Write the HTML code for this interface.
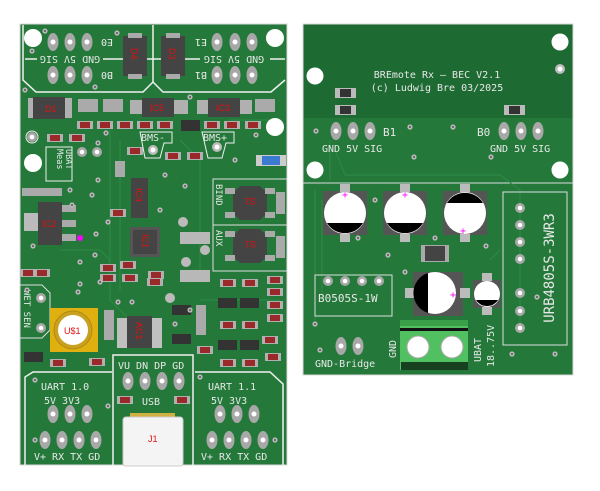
<!DOCTYPE html>
<html><head><meta charset="utf-8"><style>
html,body{margin:0;padding:0;background:#fff;width:600px;height:491px;overflow:hidden}
svg{display:block}
text{font-family:"DejaVu Sans Mono","Liberation Mono",monospace;fill:#e8e8e8}
.r{font-family:"Liberation Sans",sans-serif;fill:#e01010;font-size:9px}
</style></head><body>
<svg width="600" height="491" viewBox="0 0 600 491" xmlns="http://www.w3.org/2000/svg">
<defs>
<g id="pv"><ellipse rx="5.5" ry="9" fill="#a8a8a8"/><circle r="2.5" fill="#fff"/></g>
<g id="pr"><circle r="5" fill="#a8a8a8"/><circle r="2.3" fill="#fff"/></g>
<g id="res"><rect x="-8" y="-4" width="16" height="8" fill="#b0b0b0"/><rect x="-5" y="-3" width="10" height="6" fill="#9a2a2a"/></g>
<g id="via"><circle r="2.6" fill="#b8b8b8"/><circle r="1" fill="#555"/></g>
</defs>
<!-- LEFT BOARD -->
<rect x="20" y="24" width="267" height="441" fill="#24793a"/>
<rect x="20" y="24" width="267" height="441" fill="none" stroke="#d8d8d8" stroke-width="1"/>
<g fill="none" stroke="#2e8a44" stroke-width="1">
<path d="M110 130 L110 300 L140 330 M120 140 L120 290 M180 140 L200 160 L200 280 M60 250 L100 250 L110 260 M200 300 L280 300 M230 120 L280 120"/>
</g>
<!-- top outline -->
<g fill="none" stroke="#f0f0f0" stroke-width="1.5">
<path d="M23 25 L23 80 L36 92 L143 92 L153 82 L163 92 L271 92 L285 80"/>
<path d="M153 25 L153 82"/>
<path d="M25 59 L37 59 M103 59 L123 59 M147 59 L161 59 M185 59 L200 59 M270 59 L285 59"/>
</g>
<g fill="#fff"><circle cx="33" cy="38" r="9"/><circle cx="275" cy="38" r="9"/><circle cx="275" cy="127" r="9"/><circle cx="33" cy="163" r="9"/></g>
<use href="#pv" x="53" y="42"/><use href="#pv" x="70" y="42"/><use href="#pv" x="87" y="42"/>
<use href="#pv" x="53" y="75"/><use href="#pv" x="70" y="75"/><use href="#pv" x="87" y="75"/>
<use href="#pv" x="217" y="42"/><use href="#pv" x="235" y="42"/><use href="#pv" x="252" y="42"/>
<use href="#pv" x="217" y="75"/><use href="#pv" x="235" y="75"/><use href="#pv" x="252" y="75"/>
<g font-size="10">
<text transform="translate(70,56) rotate(180)" text-anchor="middle">GND 5V SIG</text>
<text transform="translate(234,56) rotate(180)" text-anchor="middle">GND 5V SIG</text>
<text transform="translate(107,39) rotate(180)" text-anchor="middle">E0</text>
<text transform="translate(107,72) rotate(180)" text-anchor="middle">B0</text>
<text transform="translate(201,39) rotate(180)" text-anchor="middle">E1</text>
<text transform="translate(201,72) rotate(180)" text-anchor="middle">B1</text>
</g>
<!-- D4 D3 -->
<rect x="123" y="36" width="24" height="40" fill="#444"/><rect x="128" y="33" width="14" height="5" fill="#aaa"/><rect x="128" y="74" width="14" height="5" fill="#aaa"/>
<text class="r" transform="translate(131,48) rotate(90)">D4</text>
<rect x="161" y="36" width="24" height="40" fill="#444"/><rect x="166" y="33" width="14" height="5" fill="#aaa"/><rect x="166" y="74" width="14" height="5" fill="#aaa"/>
<text class="r" transform="translate(169,48) rotate(90)">D3</text>
<!-- row 2 -->
<rect x="28" y="98" width="44" height="20" fill="#b0b0b0"/><rect x="33" y="97" width="32" height="22" fill="#444"/><text class="r" x="45" y="112">D1</text>
<rect x="78" y="99" width="20" height="13" fill="#aaa"/><rect x="103" y="99" width="20" height="13" fill="#aaa"/><rect x="255" y="99" width="20" height="13" fill="#aaa"/>
<rect x="130" y="100" width="58" height="14" fill="#b0b0b0"/><rect x="142" y="98" width="32" height="19" fill="#444"/><text class="r" x="150" y="111">IC5</text>
<rect x="197" y="100" width="55" height="14" fill="#b0b0b0"/><rect x="208" y="98" width="32" height="19" fill="#444"/><text class="r" x="216" y="111">IC3</text>
<use href="#res" x="85" y="125"/><use href="#res" x="105" y="125"/><use href="#res" x="125" y="125"/><use href="#res" x="145" y="125"/><use href="#res" x="165" y="125"/><use href="#res" x="212" y="125"/><use href="#res" x="232" y="125"/><use href="#res" x="253" y="125"/>
<rect x="181" y="120" width="19" height="11" fill="#333"/>
<use href="#res" x="55" y="138"/><use href="#res" x="77" y="138"/>
<use href="#res" x="135" y="151"/><use href="#res" x="173" y="156"/><use href="#res" x="195" y="156"/>
<rect x="256" y="155" width="30" height="11" fill="#ccc"/><rect x="262" y="156" width="18" height="9" fill="#3a7ad0"/>
<g font-size="10"><text x="141" y="141">BMS-</text><text x="203" y="141">BMS+</text></g>
<g fill="none" stroke="#f0f0f0" stroke-width="1"><path d="M140 132 H172 V143 H164 L160 158 H145 Z"/><path d="M202 132 H234 V143 H226 L222 158 H208 Z"/></g>
<circle cx="153" cy="150" r="5" fill="#bbb"/><circle cx="153" cy="150" r="2.5" fill="#fff"/>
<circle cx="217" cy="147" r="5" fill="#bbb"/><circle cx="217" cy="147" r="2.5" fill="#fff"/>
<circle cx="32" cy="137" r="6" fill="none" stroke="#eee"/><use href="#pr" x="32" y="137"/>
<rect x="46" y="147" width="26" height="34" fill="none" stroke="#eee"/>
<text font-size="8.5" transform="translate(57,149) rotate(90)">Meas</text><text font-size="8.5" transform="translate(66,149) rotate(90)">UBAT</text>
<use href="#pr" x="82" y="152"/><use href="#pr" x="97" y="152"/>
<!-- IC2 -->
<rect x="24" y="213" width="14" height="18" fill="#bbb"/><rect x="38" y="202" width="24" height="43" fill="#444"/>
<rect x="62" y="205" width="14" height="7" fill="#aaa"/><rect x="62" y="220" width="14" height="7" fill="#aaa"/><rect x="62" y="234" width="14" height="7" fill="#aaa"/>
<text class="r" x="42" y="227">IC2</text><circle cx="80" cy="238" r="3" fill="#f0f"/>
<rect x="22" y="188" width="40" height="8" fill="#aaa"/>
<!-- IC4 -->
<rect x="131" y="178" width="17" height="40" fill="#444"/><text class="r" transform="translate(136,188) rotate(90)">IC4</text>
<use href="#res" x="118" y="213"/><rect x="115" y="161" width="10" height="16" fill="#aaa"/>
<!-- IC1 -->
<rect x="130" y="227" width="30" height="30" fill="#555"/><rect x="133" y="230" width="24" height="24" fill="#444"/><text class="r" transform="translate(142,234) rotate(90)">IC1</text>
<rect x="180" y="232" width="30" height="12" fill="#b8b8b8"/><rect x="180" y="270" width="30" height="12" fill="#b8b8b8"/>
<circle cx="183" cy="222" r="5" fill="#bbb"/><circle cx="205" cy="250" r="5" fill="#bbb"/><circle cx="186" cy="262" r="5" fill="#bbb"/><circle cx="170" cy="298" r="5" fill="#bbb"/><circle cx="40" cy="202" r="0" />
<!-- BIND / AUX -->
<rect x="213" y="179" width="74" height="46" fill="none" stroke="#ddd"/><rect x="213" y="225" width="74" height="46" fill="none" stroke="#ddd"/>
<text font-size="9" transform="translate(216,184) rotate(90)">BIND</text><text font-size="9" transform="translate(216,230) rotate(90)">AUX</text>
<polygon points="240,186 260,186 267,193 267,213 260,220 240,220 233,213 233,193" fill="#444"/><text class="r" transform="translate(256,198) rotate(180)">S2</text>
<polygon points="240,229 260,229 267,236 267,256 260,263 240,263 233,256 233,236" fill="#444"/><text class="r" transform="translate(256,241) rotate(180)">S1</text>
<rect x="225" y="188" width="10" height="6" fill="#aaa"/><rect x="265" y="188" width="10" height="6" fill="#aaa"/><rect x="225" y="212" width="10" height="6" fill="#aaa"/><rect x="265" y="212" width="10" height="6" fill="#aaa"/>
<rect x="225" y="231" width="10" height="6" fill="#aaa"/><rect x="265" y="231" width="10" height="6" fill="#aaa"/><rect x="225" y="255" width="10" height="6" fill="#aaa"/><rect x="265" y="255" width="10" height="6" fill="#aaa"/>
<rect x="276" y="192" width="9" height="22" fill="#aaa"/><rect x="276" y="236" width="9" height="22" fill="#aaa"/>
<!-- middle small parts -->
<use href="#res" x="128" y="265"/><use href="#res" x="130" y="278"/><use href="#res" x="156" y="275"/><use href="#res" x="155" y="282"/><use href="#res" x="28" y="273"/><use href="#res" x="42" y="273"/>
<use href="#res" x="108" y="268"/><use href="#res" x="108" y="278"/>
<use href="#res" x="228" y="283"/><use href="#res" x="250" y="283"/><use href="#res" x="275" y="280"/><use href="#res" x="275" y="292"/><use href="#res" x="275" y="305"/><use href="#res" x="275" y="318"/>
<use href="#res" x="228" y="325"/><use href="#res" x="250" y="325"/><use href="#res" x="270" y="340"/>
<use href="#res" x="205" y="350"/><use href="#res" x="228" y="363"/><use href="#res" x="250" y="363"/><use href="#res" x="273" y="357"/>
<use href="#res" x="58" y="363"/><use href="#res" x="97" y="362"/>
<rect x="218" y="298" width="19" height="10" fill="#333"/><rect x="240" y="298" width="19" height="10" fill="#333"/><rect x="218" y="340" width="19" height="10" fill="#333"/><rect x="240" y="340" width="19" height="10" fill="#333"/>
<rect x="172" y="305" width="19" height="10" fill="#333"/><rect x="172" y="334" width="19" height="10" fill="#333"/>
<rect x="24" y="352" width="19" height="10" fill="#333"/>
<rect x="196" y="305" width="10" height="30" fill="#aaa"/><rect x="104" y="310" width="10" height="30" fill="#aaa"/>
<!-- AC1 -->
<rect x="117" y="318" width="10" height="30" fill="#c0c0c0"/><rect x="152" y="318" width="10" height="30" fill="#c0c0c0"/>
<rect x="127" y="316" width="25" height="32" fill="#444"/><text class="r" transform="translate(136,322) rotate(90)">AC1</text>
<!-- WET SEN -->
<path d="M20 285 H42 L50 293 V330 L42 338 H20" fill="none" stroke="#ddd"/>
<text font-size="9" transform="translate(24,290) rotate(90)">WET SEN</text>
<use href="#pr" x="41" y="298"/><use href="#pr" x="41" y="328"/>
<!-- U$1 -->
<rect x="50" y="308" width="48" height="44" fill="#e0b010"/><circle cx="73" cy="330" r="19" fill="#caa020" stroke="#b08a10"/><circle cx="73" cy="330" r="15" fill="#fff"/>
<text class="r" x="64" y="334" font-size="10">U$1</text>
<!-- USB box -->
<path d="M113 466 V355 H193 V466" fill="none" stroke="#f0f0f0" stroke-width="1.5"/>
<text font-size="10" x="118" y="369">VU DN DP GD</text>
<use href="#pv" x="128" y="381"/><use href="#pv" x="145" y="381"/><use href="#pv" x="162" y="381"/><use href="#pv" x="179" y="381"/>
<text font-size="10" x="142" y="405">USB</text>
<use href="#res" x="125" y="400"/><use href="#res" x="182" y="400"/>
<rect x="130" y="413" width="45" height="5" fill="#d0b040"/>
<rect x="123" y="417" width="60" height="49" rx="3" fill="#f4f4f4" stroke="#ccc"/>
<text class="r" x="148" y="442">J1</text>
<!-- UART boxes -->
<path d="M25 465 V377 L33 372 H112" fill="none" stroke="#f0f0f0" stroke-width="1.5"/>
<path d="M195 372 H270 L283 384 V465" fill="none" stroke="#f0f0f0" stroke-width="1.5"/>
<g font-size="10">
<text x="41" y="390">UART 1.0</text><text x="44" y="404">5V  3V3</text><text x="34" y="460">V+ RX TX GD</text>
<text x="208" y="390">UART 1.1</text><text x="211" y="404">5V  3V3</text><text x="201" y="460">V+ RX TX GD</text>
</g>
<use href="#pv" x="53" y="414"/><use href="#pv" x="70" y="414"/><use href="#pv" x="87" y="414"/>
<use href="#pv" x="45" y="440"/><use href="#pv" x="62" y="440"/><use href="#pv" x="79" y="440"/><use href="#pv" x="96" y="440"/>
<use href="#pv" x="220" y="414"/><use href="#pv" x="237" y="414"/><use href="#pv" x="254" y="414"/>
<use href="#pv" x="212" y="440"/><use href="#pv" x="229" y="440"/><use href="#pv" x="246" y="440"/><use href="#pv" x="263" y="440"/>
<!-- vias -->
<g>
<use href="#via" x="45" y="31"/><use href="#via" x="117" y="33"/><use href="#via" x="32" y="51"/><use href="#via" x="95" y="87"/><use href="#via" x="25" y="90"/><use href="#via" x="190" y="97"/><use href="#via" x="106" y="133"/><use href="#via" x="256" y="135"/><use href="#via" x="98" y="143"/><use href="#via" x="235" y="160"/><use href="#via" x="98" y="180"/><use href="#via" x="70" y="190"/><use href="#via" x="92" y="195"/><use href="#via" x="72" y="205"/><use href="#via" x="165" y="175"/><use href="#via" x="185" y="186"/><use href="#via" x="108" y="222"/><use href="#via" x="160" y="210"/><use href="#via" x="96" y="234"/><use href="#via" x="33" y="246"/><use href="#via" x="95" y="255"/><use href="#via" x="80" y="284"/><use href="#via" x="100" y="282"/><use href="#via" x="118" y="302"/><use href="#via" x="132" y="302"/><use href="#via" x="78" y="292"/><use href="#via" x="175" y="324"/><use href="#via" x="190" y="310"/><use href="#via" x="27" y="290"/><use href="#via" x="80" y="262"/><use href="#via" x="35" y="380"/><use href="#via" x="108" y="406"/><use href="#via" x="200" y="377"/><use href="#via" x="275" y="440"/><use href="#via" x="35" y="440"/>
</g>
<!-- RIGHT BOARD -->
<rect x="303" y="24" width="270" height="351" fill="#24793a"/>
<rect x="303" y="24" width="270" height="94" fill="#1e6a33"/>
<rect x="303" y="24" width="270" height="351" fill="none" stroke="#d8d8d8"/>
<line x1="303" y1="183" x2="573" y2="183" stroke="#dcdcdc" stroke-width="1"/>
<g fill="none" stroke="#2e8a44"><path d="M330 140 V180 M335 150 L345 175 H500 L520 190 V330 M315 190 V320 M322 200 V300 M500 250 L490 260"/></g>
<g fill="#fff"><circle cx="560" cy="42" r="8.5"/><circle cx="315" cy="76" r="8.5"/><circle cx="315" cy="170" r="8.5"/><circle cx="560" cy="170" r="8.5"/></g>
<circle cx="560" cy="69" r="5" fill="#bbb"/><circle cx="560" cy="69" r="2.5" fill="#fff"/>
<g font-size="10"><text x="437" y="78" text-anchor="middle">BREmote Rx – BEC V2.1</text><text x="437" y="91" text-anchor="middle">(c) Ludwig Bre 03/2025</text></g>
<rect x="335" y="88" width="21" height="10" fill="#bbb"/><rect x="340" y="89" width="11" height="8" fill="#333"/>
<rect x="335" y="105" width="21" height="10" fill="#bbb"/><rect x="340" y="106" width="11" height="8" fill="#333"/>
<rect x="504" y="105" width="21" height="10" fill="#bbb"/><rect x="509" y="106" width="11" height="8" fill="#333"/>
<use href="#pv" x="336" y="131"/><use href="#pv" x="353" y="131"/><use href="#pv" x="370" y="131"/>
<use href="#pv" x="504" y="131"/><use href="#pv" x="521" y="131"/><use href="#pv" x="538" y="131"/>
<g font-size="11"><text x="383" y="136">B1</text><text x="477" y="136">B0</text></g>
<g font-size="10"><text x="322" y="152">GND 5V SIG</text><text x="490" y="152">GND 5V SIG</text></g>
<!-- caps -->
<g>
<rect x="323" y="191" width="44" height="44" fill="#555"/><rect x="340" y="184" width="10" height="8" fill="#bbb"/><rect x="340" y="234" width="10" height="8" fill="#bbb"/>
<circle cx="345" cy="213" r="21" fill="#fff"/><path d="M327 223 A21 21 0 0 0 363 223 Z" fill="#000"/>
<rect x="383" y="191" width="44" height="44" fill="#555"/><rect x="400" y="184" width="10" height="8" fill="#bbb"/><rect x="400" y="234" width="10" height="8" fill="#bbb"/>
<circle cx="405" cy="213" r="21" fill="#fff"/><path d="M387 223 A21 21 0 0 0 423 223 Z" fill="#000"/>
<rect x="443" y="191" width="44" height="44" fill="#555"/><rect x="460" y="184" width="10" height="8" fill="#bbb"/><rect x="460" y="234" width="10" height="8" fill="#bbb"/>
<circle cx="465" cy="213" r="21" fill="#fff"/><path d="M447 203 A21 21 0 0 1 483 203 Z" fill="#000"/>
<rect x="421" y="245" width="28" height="17" fill="#aaa"/><rect x="425" y="246" width="20" height="15" fill="#444"/>
<rect x="413" y="272" width="50" height="44" fill="#555"/><rect x="405" y="288" width="10" height="10" fill="#bbb"/><rect x="460" y="288" width="10" height="10" fill="#bbb"/>
<circle cx="435" cy="293" r="21" fill="#fff"/><path d="M428 273 A21 21 0 0 0 428 313 Z" fill="#000"/>
<rect x="473" y="280" width="28" height="28" fill="#555"/><rect x="482" y="273" width="10" height="8" fill="#bbb"/><rect x="482" y="307" width="10" height="8" fill="#bbb"/>
<circle cx="487" cy="294" r="13" fill="#fff"/><path d="M476 300 A13 13 0 0 0 498 300 Z" fill="#000"/>
</g>
<g fill="#f0f" font-size="10" font-family="Liberation Sans"><text x="342" y="198" style="fill:#f0f">+</text><text x="402" y="198" style="fill:#f0f">+</text><text x="460" y="234" style="fill:#f0f">+</text><text x="450" y="298" style="fill:#f0f">+</text></g>
<!-- URB -->
<rect x="503" y="192" width="64" height="153" fill="none" stroke="#ddd"/>
<use href="#pr" x="520" y="208"/><use href="#pr" x="520" y="225"/><use href="#pr" x="520" y="242"/><use href="#pr" x="520" y="259"/><use href="#pr" x="520" y="293"/><use href="#pr" x="520" y="311"/><use href="#pr" x="520" y="328"/>
<text font-size="14" transform="translate(554,268) rotate(-90)" text-anchor="middle">URB4805S-3WR3</text>
<!-- B0505 -->
<rect x="315" y="275" width="77" height="41" fill="none" stroke="#ddd"/>
<use href="#pr" x="328" y="281"/><use href="#pr" x="345" y="281"/><use href="#pr" x="362" y="281"/><use href="#pr" x="379" y="281"/>
<text font-size="11" x="318" y="302">B0505S-1W</text>
<!-- terminal -->
<rect x="400" y="320" width="68" height="50" fill="#50c060"/><rect x="400" y="320" width="68" height="6" fill="#3aa048"/><rect x="400" y="328" width="68" height="3" fill="#111"/><rect x="401" y="362" width="67" height="8" fill="#164020"/>
<circle cx="418" cy="347" r="11" fill="#fff" stroke="#aaa"/><circle cx="452" cy="347" r="11" fill="#fff" stroke="#aaa"/>
<use href="#pv" x="341" y="346"/><use href="#pv" x="358" y="346"/>
<text font-size="10" x="315" y="367">GND-Bridge</text>
<text font-size="10" transform="translate(396,358) rotate(-90)">GND</text>
<text font-size="10" transform="translate(481,362) rotate(-90)">UBAT</text>
<text font-size="10" transform="translate(494,367) rotate(-90)">18..75V</text>
<g><use href="#via" x="316" y="131"/><use href="#via" x="410" y="127"/><use href="#via" x="453" y="127"/><use href="#via" x="414" y="157"/><use href="#via" x="491" y="157"/><use href="#via" x="375" y="200"/><use href="#via" x="358" y="238"/><use href="#via" x="435" y="238"/><use href="#via" x="486" y="246"/><use href="#via" x="388" y="255"/><use href="#via" x="405" y="272"/><use href="#via" x="537" y="297"/><use href="#via" x="315" y="324"/><use href="#via" x="320" y="350"/><use href="#via" x="512" y="354"/><use href="#via" x="555" y="354"/></g>
</svg>
</body></html>
